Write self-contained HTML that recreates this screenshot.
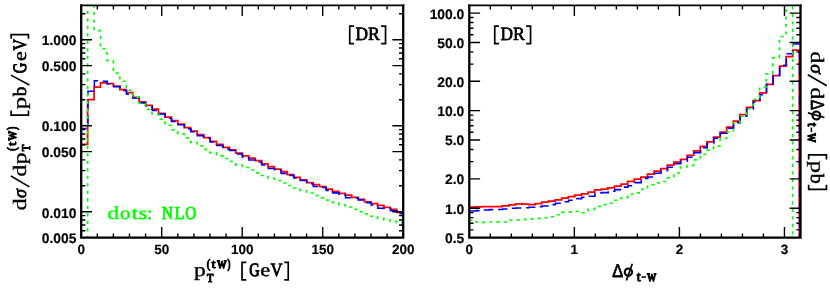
<!DOCTYPE html>
<html><head><meta charset="utf-8"><title>tW DR plots</title>
<style>html,body{margin:0;padding:0;background:#fff;}svg{display:block;text-rendering:geometricPrecision;will-change:transform;}.se{font-family:"Liberation Serif",serif;}.si{font-family:"Liberation Serif",serif;font-style:italic;}.sa{font-family:"Liberation Sans",sans-serif;}.tk{font-family:"Liberation Sans",sans-serif;font-weight:bold;font-size:13.85px;fill:#000;stroke:#000;stroke-width:0.15px;}</style></head><body>
<svg width="830" height="288" viewBox="0 0 830 288">
<rect x="0" y="0" width="830" height="288" fill="#ffffff"/>
<defs>
<clipPath id="cl"><rect x="81.2" y="5.2" width="322.0" height="232.5"/></clipPath>
<clipPath id="cr"><rect x="469.3" y="5.2" width="332.2" height="232.5"/></clipPath>
</defs>
<g clip-path="url(#cl)" fill="none" stroke-linejoin="miter">
<path d="M81.20,144.30 L87.64,144.30 L87.64,99.70 L94.08,99.70 L94.08,87.20 L100.52,87.20 L100.52,82.80 L106.96,82.80 L106.96,83.60 L113.40,83.60 L113.40,86.20 L119.84,86.20 L119.84,89.60 L126.28,89.60 L126.28,92.60 L132.72,92.60 L132.72,97.30 L139.16,97.30 L139.16,101.90 L145.60,101.90 L145.60,105.30 L152.04,105.30 L152.04,109.00 L158.48,109.00 L158.48,113.40 L164.92,113.40 L164.92,117.00 L171.36,117.00 L171.36,120.50 L177.80,120.50 L177.80,124.20 L184.24,124.20 L184.24,127.60 L190.68,127.60 L190.68,131.20 L197.12,131.20 L197.12,134.60 L203.56,134.60 L203.56,137.70 L210.00,137.70 L210.00,141.30 L216.44,141.30 L216.44,144.30 L222.88,144.30 L222.88,147.30 L229.32,147.30 L229.32,149.90 L235.76,149.90 L235.76,153.20 L242.20,153.20 L242.20,155.80 L248.64,155.80 L248.64,158.00 L255.08,158.00 L255.08,160.70 L261.52,160.70 L261.52,163.80 L267.96,163.80 L267.96,166.60 L274.40,166.60 L274.40,169.20 L280.84,169.20 L280.84,171.60 L287.28,171.60 L287.28,174.60 L293.72,174.60 L293.72,177.30 L300.16,177.30 L300.16,179.90 L306.60,179.90 L306.60,182.70 L313.04,182.70 L313.04,184.70 L319.48,184.70 L319.48,186.70 L325.92,186.70 L325.92,189.00 L332.36,189.00 L332.36,191.40 L338.80,191.40 L338.80,193.40 L345.24,193.40 L345.24,195.20 L351.68,195.20 L351.68,197.30 L358.12,197.30 L358.12,199.40 L364.56,199.40 L364.56,201.80 L371.00,201.80 L371.00,203.50 L377.44,203.50 L377.44,205.40 L383.88,205.40 L383.88,207.40 L390.32,207.40 L390.32,209.30 L396.76,209.30 L396.76,212.40 L403.20,212.40" stroke="#ff0000" stroke-width="1.75"/>
<path d="M81.50,128.50 L87.94,128.50 L87.94,91.20 L94.38,91.20 L94.38,80.70 L100.82,80.70 L100.82,81.20 L107.26,81.20 L107.26,83.80 L113.70,83.80 L113.70,86.80 L120.14,86.80 L120.14,90.40 L126.58,90.40 L126.58,94.20 L133.02,94.20 L133.02,98.30 L139.46,98.30 L139.46,102.89 L145.90,102.89 L145.90,106.03 L152.34,106.03 L152.34,110.48 L158.78,110.48 L158.78,114.01 L165.22,114.01 L165.22,118.30 L171.66,118.30 L171.66,121.55 L178.10,121.55 L178.10,124.79 L184.54,124.79 L184.54,128.86 L190.98,128.86 L190.98,131.76 L197.42,131.76 L197.42,135.75 L203.86,135.75 L203.86,138.30 L210.30,138.30 L210.30,141.94 L216.74,141.94 L216.74,145.44 L223.18,145.44 L223.18,149.04 L229.62,149.04 L229.62,150.59 L236.06,150.59 L236.06,154.03 L242.50,154.03 L242.50,157.24 L248.94,157.24 L248.94,159.92 L255.38,159.92 L255.38,162.07 L261.82,162.07 L261.82,164.90 L268.26,164.90 L268.26,168.56 L274.70,168.56 L274.70,169.77 L281.14,169.77 L281.14,173.39 L287.58,173.39 L287.58,175.53 L294.02,175.53 L294.02,178.02 L300.46,178.02 L300.46,180.58 L306.90,180.58 L306.90,183.66 L313.34,183.66 L313.34,186.42 L319.78,186.42 L319.78,187.47 L326.22,187.47 L326.22,190.37 L332.66,190.37 L332.66,192.86 L339.10,192.86 L339.10,194.46 L345.54,194.46 L345.54,197.80 L351.98,197.80 L351.98,197.89 L358.42,197.89 L358.42,199.99 L364.86,199.99 L364.86,202.61 L371.30,202.61 L371.30,205.02 L377.74,205.02 L377.74,208.30 L384.18,208.30 L384.18,208.37 L390.62,208.37 L390.62,210.68 L397.06,210.68 L397.06,213.60 L403.50,213.60" stroke="#0000ff" stroke-width="1.55" stroke-dasharray="9.8 5" stroke-dashoffset="4.6"/>
<path d="M81.20,300.00 L87.64,300.00 L87.64,-10.00 L94.08,-10.00 L94.08,30.60 L100.52,30.60 L100.52,48.70 L106.96,48.70 L106.96,60.60 L113.40,60.60 L113.40,73.10 L119.84,73.10 L119.84,81.20 L126.28,81.20 L126.28,90.20 L132.72,90.20 L132.72,97.30 L139.16,97.30 L139.16,103.30 L145.60,103.30 L145.60,109.40 L152.04,109.40 L152.04,114.00 L158.48,114.00 L158.48,119.10 L164.92,119.10 L164.92,125.20 L171.36,125.20 L171.36,129.80 L177.80,129.80 L177.80,133.80 L184.24,133.80 L184.24,137.90 L190.68,137.90 L190.68,142.30 L197.12,142.30 L197.12,145.90 L203.56,145.90 L203.56,149.40 L210.00,149.40 L210.00,152.80 L216.44,152.80 L216.44,155.80 L222.88,155.80 L222.88,158.50 L229.32,158.50 L229.32,161.50 L235.76,161.50 L235.76,164.80 L242.20,164.80 L242.20,167.50 L248.64,167.50 L248.64,170.00 L255.08,170.00 L255.08,172.80 L261.52,172.80 L261.52,175.50 L267.96,175.50 L267.96,178.00 L274.40,178.00 L274.40,180.50 L280.84,180.50 L280.84,183.00 L287.28,183.00 L287.28,185.50 L293.72,185.50 L293.72,188.00 L300.16,188.00 L300.16,190.50 L306.60,190.50 L306.60,193.00 L313.04,193.00 L313.04,195.50 L319.48,195.50 L319.48,197.80 L325.92,197.80 L325.92,200.10 L332.36,200.10 L332.36,202.40 L338.80,202.40 L338.80,204.70 L345.24,204.70 L345.24,207.00 L351.68,207.00 L351.68,209.30 L358.12,209.30 L358.12,211.60 L364.56,211.60 L364.56,213.90 L371.00,213.90 L371.00,216.20 L377.44,216.20 L377.44,218.40 L383.88,218.40 L383.88,220.00 L390.32,220.00 L390.32,221.40 L396.76,221.40 L396.76,222.60 L403.20,222.60" stroke="#00ff00" stroke-width="1.65" stroke-dasharray="3.2 4.3"/>
</g>
<g clip-path="url(#cr)" fill="none" stroke-linejoin="miter">
<path d="M469.30,207.00 L475.90,207.00 L475.90,206.80 L482.50,206.80 L482.50,206.50 L489.10,206.50 L489.10,206.70 L495.70,206.70 L495.70,206.50 L502.30,206.50 L502.30,205.90 L508.90,205.90 L508.90,204.90 L515.50,204.90 L515.50,203.80 L522.10,203.80 L522.10,204.20 L528.70,204.20 L528.70,204.60 L535.30,204.60 L535.30,203.60 L541.90,203.60 L541.90,202.20 L548.50,202.20 L548.50,201.20 L555.10,201.20 L555.10,199.80 L561.70,199.80 L561.70,198.20 L568.30,198.20 L568.30,196.60 L574.90,196.60 L574.90,195.20 L581.50,195.20 L581.50,193.80 L588.10,193.80 L588.10,192.20 L594.70,192.20 L594.70,189.80 L601.30,189.80 L601.30,189.10 L607.90,189.10 L607.90,187.80 L614.50,187.80 L614.50,186.00 L621.10,186.00 L621.10,184.20 L627.70,184.20 L627.70,181.40 L634.30,181.40 L634.30,179.00 L640.90,179.00 L640.90,177.00 L647.50,177.00 L647.50,174.20 L654.10,174.20 L654.10,171.10 L660.70,171.10 L660.70,168.50 L667.30,168.50 L667.30,165.00 L673.90,165.00 L673.90,162.00 L680.50,162.00 L680.50,159.40 L687.10,159.40 L687.10,155.40 L693.70,155.40 L693.70,150.90 L700.30,150.90 L700.30,146.30 L706.90,146.30 L706.90,141.90 L713.50,141.90 L713.50,137.00 L720.10,137.00 L720.10,132.00 L726.70,132.00 L726.70,127.00 L733.30,127.00 L733.30,121.10 L739.90,121.10 L739.90,114.60 L746.50,114.60 L746.50,107.30 L753.10,107.30 L753.10,100.50 L759.70,100.50 L759.70,92.90 L766.30,92.90 L766.30,84.30 L772.90,84.30 L772.90,75.50 L779.50,75.50 L779.50,66.00 L786.10,66.00 L786.10,56.50 L792.70,56.50 L792.70,50.00 L799.30,50.00 L799.30,300.00" stroke="#ff0000" stroke-width="1.75"/>
<path d="M469.60,211.00 L476.20,211.00 L476.20,210.60 L482.80,210.60 L482.80,209.90 L489.40,209.90 L489.40,209.60 L496.00,209.60 L496.00,209.40 L502.60,209.40 L502.60,209.00 L509.20,209.00 L509.20,208.30 L515.80,208.30 L515.80,208.00 L522.40,208.00 L522.40,207.80 L529.00,207.80 L529.00,207.30 L535.60,207.30 L535.60,206.60 L542.20,206.60 L542.20,205.90 L548.80,205.90 L548.80,204.60 L555.40,204.60 L555.40,203.20 L562.00,203.20 L562.00,201.80 L568.60,201.80 L568.60,200.20 L575.20,200.20 L575.20,198.60 L581.80,198.60 L581.80,197.20 L588.40,197.20 L588.40,196.30 L595.00,196.30 L595.00,193.00 L601.60,193.00 L601.60,192.60 L608.20,192.60 L608.20,191.25 L614.80,191.25 L614.80,189.60 L621.40,189.60 L621.40,187.10 L628.00,187.10 L628.00,185.70 L634.60,185.70 L634.60,182.60 L641.20,182.60 L641.20,178.50 L647.80,178.50 L647.80,177.00 L654.40,177.00 L654.40,173.20 L661.00,173.20 L661.00,170.40 L667.60,170.40 L667.60,167.30 L674.20,167.30 L674.20,163.80 L680.80,163.80 L680.80,161.10 L687.40,161.10 L687.40,157.30 L694.00,157.30 L694.00,152.60 L700.60,152.60 L700.60,147.80 L707.20,147.80 L707.20,143.50 L713.80,143.50 L713.80,138.30 L720.40,138.30 L720.40,133.30 L727.00,133.30 L727.00,128.30 L733.60,128.30 L733.60,122.60 L740.20,122.60 L740.20,116.10 L746.80,116.10 L746.80,108.90 L753.40,108.90 L753.40,102.00 L760.00,102.00 L760.00,94.70 L766.60,94.70 L766.60,84.30 L773.20,84.30 L773.20,75.20 L779.80,75.20 L779.80,65.20 L786.40,65.20 L786.40,53.75 L793.00,53.75 L793.00,43.90 L799.60,43.90" stroke="#0000ff" stroke-width="1.55" stroke-dasharray="9.8 5" stroke-dashoffset="14.3"/>
<path d="M799.60,43.90 V300.0" stroke="#0000ff" stroke-width="1.55" stroke-dasharray="9.8 5.5" stroke-dashoffset="9.6"/>
<path d="M469.30,220.20 L475.90,220.20 L475.90,222.00 L482.50,222.00 L482.50,222.40 L489.10,222.40 L489.10,222.00 L495.70,222.00 L495.70,221.80 L502.30,221.80 L502.30,222.00 L508.90,222.00 L508.90,220.00 L515.50,220.00 L515.50,219.80 L522.10,219.80 L522.10,219.40 L528.70,219.40 L528.70,218.80 L535.30,218.80 L535.30,218.40 L541.90,218.40 L541.90,217.70 L548.50,217.70 L548.50,216.70 L555.10,216.70 L555.10,214.70 L561.70,214.70 L561.70,212.30 L568.30,212.30 L568.30,211.90 L574.90,211.90 L574.90,211.30 L581.50,211.30 L581.50,212.70 L588.10,212.70 L588.10,209.30 L594.70,209.30 L594.70,206.30 L601.30,206.30 L601.30,204.60 L607.90,204.60 L607.90,203.20 L614.50,203.20 L614.50,200.20 L621.10,200.20 L621.10,197.80 L627.70,197.80 L627.70,194.00 L634.30,194.00 L634.30,192.80 L640.90,192.80 L640.90,189.40 L647.50,189.40 L647.50,184.70 L654.10,184.70 L654.10,182.90 L660.70,182.90 L660.70,181.50 L667.30,181.50 L667.30,177.80 L673.90,177.80 L673.90,173.00 L680.50,173.00 L680.50,167.00 L687.10,167.00 L687.10,165.50 L693.70,165.50 L693.70,159.80 L700.30,159.80 L700.30,154.20 L706.90,154.20 L706.90,150.10 L713.50,150.10 L713.50,146.10 L720.10,146.10 L720.10,138.30 L726.70,138.30 L726.70,132.00 L733.30,132.00 L733.30,123.30 L739.90,123.30 L739.90,116.40 L746.50,116.40 L746.50,108.75 L753.10,108.75 L753.10,99.50 L759.70,99.50 L759.70,87.10 L766.30,87.10 L766.30,73.90 L772.90,73.90 L772.90,57.90 L779.50,57.90 L779.50,36.50 L786.10,36.50 L786.10,-10.00 L792.70,-10.00 L792.70,300.00 L799.30,300.00" stroke="#00ff00" stroke-width="1.65" stroke-dasharray="3.2 4.3"/>
</g>
<path d="M161.70,237.7 V226.90 M161.70,5.2 V16.00 M242.20,237.7 V226.90 M242.20,5.2 V16.00 M322.70,237.7 V226.90 M322.70,5.2 V16.00 M97.30,237.7 V233.50 M97.30,5.2 V9.40 M113.40,237.7 V233.50 M113.40,5.2 V9.40 M129.50,237.7 V233.50 M129.50,5.2 V9.40 M145.60,237.7 V233.50 M145.60,5.2 V9.40 M177.80,237.7 V233.50 M177.80,5.2 V9.40 M193.90,237.7 V233.50 M193.90,5.2 V9.40 M210.00,237.7 V233.50 M210.00,5.2 V9.40 M226.10,237.7 V233.50 M226.10,5.2 V9.40 M258.30,237.7 V233.50 M258.30,5.2 V9.40 M274.40,237.7 V233.50 M274.40,5.2 V9.40 M290.50,237.7 V233.50 M290.50,5.2 V9.40 M306.60,237.7 V233.50 M306.60,5.2 V9.40 M338.80,237.7 V233.50 M338.80,5.2 V9.40 M354.90,237.7 V233.50 M354.90,5.2 V9.40 M371.00,237.7 V233.50 M371.00,5.2 V9.40 M387.10,237.7 V233.50 M387.10,5.2 V9.40 M81.2,211.70 H92.00 M403.2,211.70 H392.40 M81.2,151.59 H92.00 M403.2,151.59 H392.40 M81.2,125.70 H92.00 M403.2,125.70 H392.40 M81.2,65.59 H92.00 M403.2,65.59 H392.40 M81.2,39.70 H92.00 M403.2,39.70 H392.40 M81.2,230.78 H85.40 M403.2,230.78 H399.00 M81.2,225.02 H85.40 M403.2,225.02 H399.00 M81.2,220.03 H85.40 M403.2,220.03 H399.00 M81.2,215.64 H85.40 M403.2,215.64 H399.00 M81.2,185.81 H85.40 M403.2,185.81 H399.00 M81.2,170.67 H85.40 M403.2,170.67 H399.00 M81.2,159.92 H85.40 M403.2,159.92 H399.00 M81.2,144.78 H85.40 M403.2,144.78 H399.00 M81.2,139.02 H85.40 M403.2,139.02 H399.00 M81.2,134.03 H85.40 M403.2,134.03 H399.00 M81.2,129.64 H85.40 M403.2,129.64 H399.00 M81.2,99.81 H85.40 M403.2,99.81 H399.00 M81.2,84.67 H85.40 M403.2,84.67 H399.00 M81.2,73.92 H85.40 M403.2,73.92 H399.00 M81.2,58.78 H85.40 M403.2,58.78 H399.00 M81.2,53.02 H85.40 M403.2,53.02 H399.00 M81.2,48.03 H85.40 M403.2,48.03 H399.00 M81.2,43.64 H85.40 M403.2,43.64 H399.00 M81.2,13.81 H85.40 M403.2,13.81 H399.00" stroke="#000" stroke-width="1.4" fill="none"/>
<path d="M81.2,4.45 V238.85 M403.2,4.45 V238.85 M80.05,237.7 H404.35" stroke="#000" stroke-width="2.3" fill="none"/><path d="M80.05,5.40 H404.35" stroke="#000" stroke-width="1.9" fill="none"/>
<path d="M574.35,237.7 V226.90 M574.35,5.2 V16.00 M679.40,237.7 V226.90 M679.40,5.2 V16.00 M784.45,237.7 V226.90 M784.45,5.2 V16.00 M490.31,237.7 V233.50 M490.31,5.2 V9.40 M511.32,237.7 V233.50 M511.32,5.2 V9.40 M532.33,237.7 V233.50 M532.33,5.2 V9.40 M553.34,237.7 V233.50 M553.34,5.2 V9.40 M595.36,237.7 V233.50 M595.36,5.2 V9.40 M616.37,237.7 V233.50 M616.37,5.2 V9.40 M637.38,237.7 V233.50 M637.38,5.2 V9.40 M658.39,237.7 V233.50 M658.39,5.2 V9.40 M700.41,237.7 V233.50 M700.41,5.2 V9.40 M721.42,237.7 V233.50 M721.42,5.2 V9.40 M742.43,237.7 V233.50 M742.43,5.2 V9.40 M763.44,237.7 V233.50 M763.44,5.2 V9.40 M469.3,208.20 H480.10 M800.5,208.20 H789.70 M469.3,178.83 H480.10 M800.5,178.83 H789.70 M469.3,140.02 H480.10 M800.5,140.02 H789.70 M469.3,110.65 H480.10 M800.5,110.65 H789.70 M469.3,81.28 H480.10 M800.5,81.28 H789.70 M469.3,42.47 H480.10 M800.5,42.47 H789.70 M469.3,13.10 H480.10 M800.5,13.10 H789.70 M469.3,229.84 H473.50 M800.5,229.84 H796.30 M469.3,223.31 H473.50 M800.5,223.31 H796.30 M469.3,217.65 H473.50 M800.5,217.65 H796.30 M469.3,212.66 H473.50 M800.5,212.66 H796.30 M469.3,161.66 H473.50 M800.5,161.66 H796.30 M469.3,149.47 H473.50 M800.5,149.47 H796.30 M469.3,132.29 H473.50 M800.5,132.29 H796.30 M469.3,125.76 H473.50 M800.5,125.76 H796.30 M469.3,120.10 H473.50 M800.5,120.10 H796.30 M469.3,115.11 H473.50 M800.5,115.11 H796.30 M469.3,64.11 H473.50 M800.5,64.11 H796.30 M469.3,51.92 H473.50 M800.5,51.92 H796.30 M469.3,34.74 H473.50 M800.5,34.74 H796.30 M469.3,28.21 H473.50 M800.5,28.21 H796.30 M469.3,22.55 H473.50 M800.5,22.55 H796.30 M469.3,17.56 H473.50 M800.5,17.56 H796.30" stroke="#000" stroke-width="1.4" fill="none"/>
<path d="M469.3,4.45 V238.85 M800.5,4.45 V238.85 M468.15,237.7 H801.65" stroke="#000" stroke-width="2.3" fill="none"/><path d="M468.15,5.40 H801.65" stroke="#000" stroke-width="1.9" fill="none"/>
<text class="tk" x="76.4" y="44.70" text-anchor="end">1.000</text>
<text class="tk" x="76.4" y="70.79" text-anchor="end">0.500</text>
<text class="tk" x="76.4" y="131.00" text-anchor="end">0.100</text>
<text class="tk" x="76.4" y="157.49" text-anchor="end">0.050</text>
<text class="tk" x="76.4" y="217.50" text-anchor="end">0.010</text>
<text class="tk" x="76.4" y="243.49" text-anchor="end">0.005</text>
<text class="tk" style="font-size:13.5px" x="81.20" y="254.3" text-anchor="middle">0</text>
<text class="tk" style="font-size:13.5px" x="161.70" y="254.3" text-anchor="middle">50</text>
<text class="tk" style="font-size:13.5px" x="242.20" y="254.3" text-anchor="middle">100</text>
<text class="tk" style="font-size:13.5px" x="322.70" y="254.3" text-anchor="middle">150</text>
<text class="tk" style="font-size:13.5px" x="403.20" y="254.3" text-anchor="middle">200</text>
<text class="tk" x="464.3" y="18.50" text-anchor="end">100.0</text>
<text class="tk" x="464.3" y="47.87" text-anchor="end">50.0</text>
<text class="tk" x="464.3" y="86.68" text-anchor="end">20.0</text>
<text class="tk" x="464.3" y="116.05" text-anchor="end">10.0</text>
<text class="tk" x="464.3" y="145.42" text-anchor="end">5.0</text>
<text class="tk" x="464.3" y="184.23" text-anchor="end">2.0</text>
<text class="tk" x="464.3" y="213.60" text-anchor="end">1.0</text>
<text class="tk" x="464.3" y="242.97" text-anchor="end">0.5</text>
<text class="tk" style="font-size:13.5px" x="469.30" y="254.3" text-anchor="middle">0</text>
<text class="tk" style="font-size:13.5px" x="574.35" y="254.3" text-anchor="middle">1</text>
<text class="tk" style="font-size:13.5px" x="679.40" y="254.3" text-anchor="middle">2</text>
<text class="tk" style="font-size:13.5px" x="784.45" y="254.3" text-anchor="middle">3</text>
<g transform="translate(0.0,39.9)">
<path d="M354.10,-13.85 H349.75 V3.75 H354.10" fill="none" stroke="#000" stroke-width="1.7"/>
<text transform="translate(355.45,0.00) scale(0.915,1)" class="se" font-size="18.9" fill="#000" stroke="#000" stroke-width="0.77" stroke-linejoin="round">D</text>
<text transform="translate(367.93,0.00) scale(0.940,1)" class="se" font-size="18.9" fill="#000" stroke="#000" stroke-width="0.73" stroke-linejoin="round">R</text>
<path d="M381.10,-13.85 H385.55 V3.75 H381.10" fill="none" stroke="#000" stroke-width="1.7"/>
</g>
<g transform="translate(145.0,39.9)">
<path d="M354.10,-13.85 H349.75 V3.75 H354.10" fill="none" stroke="#000" stroke-width="1.7"/>
<text transform="translate(355.45,0.00) scale(0.915,1)" class="se" font-size="18.9" fill="#000" stroke="#000" stroke-width="0.77" stroke-linejoin="round">D</text>
<text transform="translate(367.93,0.00) scale(0.940,1)" class="se" font-size="18.9" fill="#000" stroke="#000" stroke-width="0.73" stroke-linejoin="round">R</text>
<path d="M381.10,-13.85 H385.55 V3.75 H381.10" fill="none" stroke="#000" stroke-width="1.7"/>
</g>
<g transform="translate(0,219.0)">
<text transform="translate(107.13,0.00) scale(1.319,1)" class="se" font-size="18.3" fill="#00ff00" stroke="#00ff00" stroke-width="0.30" stroke-linejoin="round">d</text>
<text transform="translate(119.96,0.00) scale(1.157,1)" class="se" font-size="18.3" fill="#00ff00" stroke="#00ff00" stroke-width="0.45" stroke-linejoin="round">o</text>
<text transform="translate(131.16,0.00) scale(1.471,1)" class="se" font-size="18.3" fill="#00ff00" stroke="#00ff00" stroke-width="0.30" stroke-linejoin="round">t</text>
<text transform="translate(138.85,0.00) scale(1.191,1)" class="se" font-size="18.3" fill="#00ff00" stroke="#00ff00" stroke-width="0.42" stroke-linejoin="round">s</text>
<text transform="translate(146.96,0.00) scale(1.067,1)" class="se" font-size="18.3" fill="#00ff00" stroke="#00ff00" stroke-width="0.56" stroke-linejoin="round">:</text>
<text transform="translate(162.07,0.00) scale(0.823,1)" class="se" font-size="18.3" fill="#00ff00" stroke="#00ff00" stroke-width="0.98" stroke-linejoin="round">N</text>
<text transform="translate(174.39,0.00) scale(0.907,1)" class="se" font-size="18.3" fill="#00ff00" stroke="#00ff00" stroke-width="0.81" stroke-linejoin="round">L</text>
<text transform="translate(185.18,0.00) scale(0.828,1)" class="se" font-size="18.3" fill="#00ff00" stroke="#00ff00" stroke-width="0.97" stroke-linejoin="round">O</text>
</g>
<g transform="translate(0,276.2)">
<text transform="translate(194.07,0.00) scale(1.254,1)" class="se" font-size="18.9" fill="#000" stroke="#000" stroke-width="0.33" stroke-linejoin="round">p</text>
<text transform="translate(206.92,5.30) scale(0.866,1)" class="se" font-size="12.2" fill="#000" stroke="#000" stroke-width="1.17" stroke-linejoin="round">T</text>
<text transform="translate(206.74,-8.20) scale(0.827,1)" class="se" font-size="12.9" fill="#000" stroke="#000" stroke-width="1.10" stroke-linejoin="round">(</text>
<text transform="translate(211.45,-8.20) scale(1.221,1)" class="se" font-size="12.5" fill="#000" stroke="#000" stroke-width="0.82" stroke-linejoin="round">t</text>
<text transform="translate(217.25,-8.20) scale(0.878,1)" class="se" font-size="11.0" fill="#000" stroke="#000" stroke-width="1.50" stroke-linejoin="round">W</text>
<text transform="translate(227.62,-8.20) scale(0.644,1)" class="se" font-size="12.9" fill="#000" stroke="#000" stroke-width="1.50" stroke-linejoin="round">)</text>
<path d="M246.30,-13.85 H242.05 V3.75 H246.30" fill="none" stroke="#000" stroke-width="1.7"/>
<text transform="translate(249.13,0.00) scale(0.762,1)" class="se" font-size="18.9" fill="#000" stroke="#000" stroke-width="1.10" stroke-linejoin="round">G</text>
<text transform="translate(260.25,0.00) scale(1.192,1)" class="se" font-size="18.9" fill="#000" stroke="#000" stroke-width="0.39" stroke-linejoin="round">e</text>
<text transform="translate(270.58,0.00) scale(0.882,1)" class="se" font-size="18.9" fill="#000" stroke="#000" stroke-width="0.83" stroke-linejoin="round">V</text>
<path d="M284.30,-13.85 H288.25 V3.75 H284.30" fill="none" stroke="#000" stroke-width="1.7"/>
</g>
<g transform="translate(0,276.5)">
<text transform="translate(612.14,0.00) scale(0.884,1)" class="sa" font-size="18.5" fill="#000" stroke="#000" stroke-width="0.75" stroke-linejoin="round">&#916;</text>
<ellipse cx="628.40" cy="-4.35" rx="3.65" ry="3.6" fill="none" stroke="#000" stroke-width="2.15" transform="rotate(-14 628.40 -4.35)"/><path d="M632.30,-12.70 L626.40,4.00" stroke="#000" stroke-width="1.7" fill="none"/>
<text transform="translate(636.64,4.10) scale(1.008,1)" class="se" font-size="14.0" fill="#000" stroke="#000" stroke-width="1.04" stroke-linejoin="round">t</text>
<path d="M641.50,0.50 H646.10" stroke="#000" stroke-width="1.5" fill="none"/>
<text transform="translate(647.32,4.10) scale(0.839,1)" class="se" font-size="11.2" fill="#000" stroke="#000" stroke-width="1.50" stroke-linejoin="round">W</text>
</g>
<g transform="translate(26.3,210) rotate(-90)">
<text transform="translate(-0.49,0.00) scale(1.290,1)" class="se" font-size="18.9" fill="#000" stroke="#000" stroke-width="0.30" stroke-linejoin="round">d</text>
<text transform="translate(11.92,0.00) scale(0.959,1)" class="si" font-size="18.9" fill="#000" stroke="#000" stroke-width="0.76" stroke-linejoin="round">&#963;</text>
<path d="M23.10,3.10 L34.00,-15.40" fill="none" stroke="#000" stroke-width="1.6" stroke-linecap="butt"/>
<text transform="translate(33.31,0.00) scale(1.290,1)" class="se" font-size="18.9" fill="#000" stroke="#000" stroke-width="0.30" stroke-linejoin="round">d</text>
<text transform="translate(45.74,0.00) scale(1.234,1)" class="se" font-size="18.9" fill="#000" stroke="#000" stroke-width="0.35" stroke-linejoin="round">p</text>
<text transform="translate(58.81,3.40) scale(0.903,1)" class="se" font-size="11.9" fill="#000" stroke="#000" stroke-width="1.11" stroke-linejoin="round">T</text>
<text transform="translate(59.29,-10.00) scale(0.827,1)" class="se" font-size="12.9" fill="#000" stroke="#000" stroke-width="1.10" stroke-linejoin="round">(</text>
<text transform="translate(64.00,-10.00) scale(1.221,1)" class="se" font-size="12.5" fill="#000" stroke="#000" stroke-width="0.82" stroke-linejoin="round">t</text>
<text transform="translate(69.80,-10.00) scale(0.878,1)" class="se" font-size="11.0" fill="#000" stroke="#000" stroke-width="1.50" stroke-linejoin="round">W</text>
<text transform="translate(80.17,-10.00) scale(0.644,1)" class="se" font-size="12.9" fill="#000" stroke="#000" stroke-width="1.50" stroke-linejoin="round">)</text>
<path d="M99.40,-15.15 H94.85 V2.15 H99.40" fill="none" stroke="#000" stroke-width="1.7"/>
<text transform="translate(100.80,0.00) scale(1.309,1)" class="se" font-size="18.9" fill="#000" stroke="#000" stroke-width="0.30" stroke-linejoin="round">p</text>
<text transform="translate(113.81,0.00) scale(1.018,1)" class="se" font-size="18.9" fill="#000" stroke="#000" stroke-width="0.60" stroke-linejoin="round">b</text>
<path d="M125.00,3.10 L134.90,-15.40" fill="none" stroke="#000" stroke-width="1.6" stroke-linecap="butt"/>
<text transform="translate(136.82,0.00) scale(0.771,1)" class="se" font-size="18.9" fill="#000" stroke="#000" stroke-width="1.08" stroke-linejoin="round">G</text>
<text transform="translate(148.97,0.00) scale(1.175,1)" class="se" font-size="18.9" fill="#000" stroke="#000" stroke-width="0.41" stroke-linejoin="round">e</text>
<text transform="translate(159.61,0.00) scale(0.842,1)" class="se" font-size="18.9" fill="#000" stroke="#000" stroke-width="0.91" stroke-linejoin="round">V</text>
<path d="M171.30,-15.15 H175.35 V2.15 H171.30" fill="none" stroke="#000" stroke-width="1.7"/>
</g>
<g transform="translate(810.7,52) rotate(90)">
<text transform="translate(-0.69,0.00) scale(1.290,1)" class="se" font-size="18.9" fill="#000" stroke="#000" stroke-width="0.30" stroke-linejoin="round">d</text>
<text transform="translate(12.27,0.00) scale(1.017,1)" class="si" font-size="18.9" fill="#000" stroke="#000" stroke-width="0.67" stroke-linejoin="round">&#963;</text>
<path d="M22.80,2.90 L33.80,-16.10" fill="none" stroke="#000" stroke-width="1.6" stroke-linecap="butt"/>
<text transform="translate(35.21,0.00) scale(1.290,1)" class="se" font-size="18.9" fill="#000" stroke="#000" stroke-width="0.30" stroke-linejoin="round">d</text>
<text transform="translate(47.85,-0.50) scale(0.817,1)" class="sa" font-size="18.7" fill="#000" stroke="#000" stroke-width="0.75" stroke-linejoin="round">&#916;</text>
<ellipse cx="63.50" cy="-5.70" rx="4.0" ry="3.85" fill="none" stroke="#000" stroke-width="2.15" transform="rotate(-14 63.50 -5.70)"/><path d="M65.50,-13.70 L60.90,2.80" stroke="#000" stroke-width="1.7" fill="none"/>
<text transform="translate(70.69,2.90) scale(1.008,1)" class="se" font-size="14.0" fill="#000" stroke="#000" stroke-width="1.04" stroke-linejoin="round">t</text>
<path d="M75.55,-0.70 H80.15" stroke="#000" stroke-width="1.5" fill="none"/>
<text transform="translate(81.37,2.90) scale(0.839,1)" class="se" font-size="11.2" fill="#000" stroke="#000" stroke-width="1.50" stroke-linejoin="round">W</text>
<path d="M107.40,-15.75 H102.85 V2.05 H107.40" fill="none" stroke="#000" stroke-width="1.7"/>
<text transform="translate(108.80,0.00) scale(1.309,1)" class="se" font-size="18.9" fill="#000" stroke="#000" stroke-width="0.30" stroke-linejoin="round">p</text>
<text transform="translate(121.69,0.00) scale(1.056,1)" class="se" font-size="18.9" fill="#000" stroke="#000" stroke-width="0.55" stroke-linejoin="round">b</text>
<path d="M132.80,-15.75 H137.35 V2.05 H132.80" fill="none" stroke="#000" stroke-width="1.7"/>
</g>
</svg></body></html>
